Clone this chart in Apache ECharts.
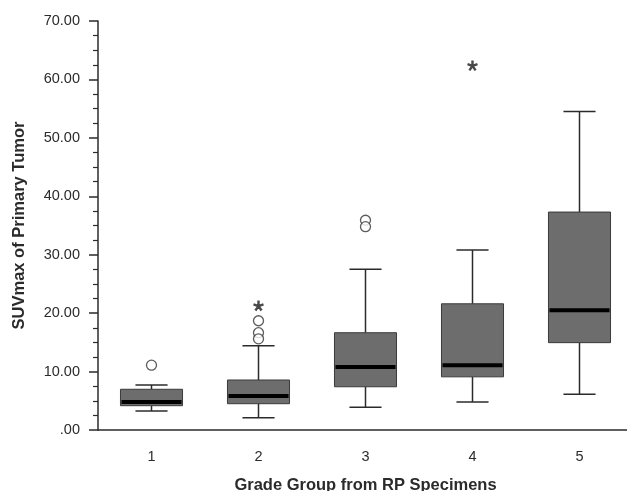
<!DOCTYPE html>
<html>
<head>
<meta charset="utf-8">
<script src="https://cdn.jsdelivr.net/npm/echarts@6/dist/echarts.min.js"></script>
<style>
html, body { margin: 0; padding: 0; background: #fff; }
#chart { width: 627px; height: 491px; }
</style>
</head>
<body>
<div id="chart"></div>
<script>
// 箱线图数据
const categories = ['1', '2', '3', '4', '5'];
const whiskerLow = [3.25, 2.1, 3.9, 4.8, 6.1];
const q1 = [4.16, 4.5, 7.4, 9.1, 14.95];
const median = [4.8, 5.8, 10.8, 11.1, 20.5];
const q3 = [6.97, 8.56, 16.65, 21.6, 37.3];
const whiskerHigh = [7.7, 14.4, 27.5, 30.8, 54.5];
// 离群值（圆圈）和极值（星号）
const outliers = [['1', 11.1], ['2', 18.7], ['2', 16.65], ['2', 15.6], ['3', 35.9], ['3', 34.8]];
const extremes = [['2', 21.3], ['4', 62.4]];
const yTicks = [0, 10, 20, 30, 40, 50, 60, 70];

const font = 'Liberation Sans, Arial, sans-serif';
const ink = '#2b2b2b';

let $chart = echarts.init(document.getElementById('chart'));

const boxData = categories.map((c, i) => [i, whiskerLow[i], q1[i], median[i], q3[i], whiskerHigh[i]]);

function renderBox(params, api) {
	const x = api.value(0);
	const pLow = api.coord([x, api.value(1)]);
	const pQ1 = api.coord([x, api.value(2)]);
	const pMed = api.coord([x, api.value(3)]);
	const pQ3 = api.coord([x, api.value(4)]);
	const pHigh = api.coord([x, api.value(5)]);
	const band = api.size([1, 0])[0];
	const bw = band * 0.58;
	const cw = band * 0.3;
	const cx = pMed[0];
	const lineStyle = { stroke: ink, lineWidth: 1.5 };
	return {
		type: 'group',
		children: [
			{ type: 'line', shape: { x1: cx, y1: pLow[1], x2: cx, y2: pQ1[1] }, style: lineStyle },
			{ type: 'line', shape: { x1: cx, y1: pQ3[1], x2: cx, y2: pHigh[1] }, style: lineStyle },
			{ type: 'line', shape: { x1: cx - cw / 2, y1: pLow[1], x2: cx + cw / 2, y2: pLow[1] }, style: lineStyle },
			{ type: 'line', shape: { x1: cx - cw / 2, y1: pHigh[1], x2: cx + cw / 2, y2: pHigh[1] }, style: lineStyle },
			{
				type: 'rect',
				shape: { x: cx - bw / 2, y: pQ3[1], width: bw, height: pQ1[1] - pQ3[1] },
				style: { fill: '#6d6d6d', stroke: '#3a3a3a', lineWidth: 1 }
			},
			{ type: 'line', shape: { x1: cx - bw / 2 + 1, y1: pMed[1], x2: cx + bw / 2 - 1, y2: pMed[1] }, style: { stroke: '#000', lineWidth: 4 } }
		]
	};
}

const option = {
	animation: false,
	backgroundColor: '#fff',
	grid: { left: 98, top: 21, right: -6, bottom: 61, outerBoundsMode: 'none', containLabel: false },
	xAxis: {
		type: 'category',
		data: categories,
		name: 'Grade Group from RP Specimens',
		nameLocation: 'middle',
		nameGap: 47,
		nameTextStyle: { fontFamily: font, fontSize: 16.5, fontWeight: 'bold', color: ink },
		axisLine: { lineStyle: { color: ink, width: 1.5 } },
		axisTick: { alignWithLabel: true, length: 8, lineStyle: { color: ink, width: 1.5 } },
		axisLabel: { fontFamily: font, fontSize: 14.5, color: ink, margin: 19 },
		splitLine: { show: false }
	},
	yAxis: {
		type: 'value',
		min: 0,
		max: 70,
		interval: 10,
		name: 'SUVmax of Primary Tumor',
		nameLocation: 'middle',
		nameGap: 70,
		nameTextStyle: { fontFamily: font, fontSize: 16.5, fontWeight: 'bold', color: ink },
		axisLine: { show: true, lineStyle: { color: ink, width: 1.5 } },
		axisTick: { show: true, length: 9, lineStyle: { color: ink, width: 1.5 } },
		minorTick: { show: true, splitNumber: 4, length: 5, lineStyle: { color: ink, width: 1.2 } },
		axisLabel: {
			fontFamily: font, fontSize: 14.5, color: ink, margin: 18,
			formatter: v => (yTicks.indexOf(v) >= 0 ? (v === 0 ? '.00' : v.toFixed(2)) : '')
		},
		splitLine: { show: false }
	},
	series: [
		{
			type: 'custom',
			renderItem: renderBox,
			data: boxData,
			encode: { x: 0, y: [1, 2, 3, 4, 5] },
			z: 2
		},
		{
			type: 'scatter',
			data: outliers,
			symbol: 'circle',
			symbolSize: 10,
			itemStyle: { color: '#fff', borderColor: '#333', borderWidth: 1.3 },
			z: 3
		},
		{
			// 五角星号
			type: 'scatter',
			data: extremes,
			symbol: 'path://M0,0L0,-5M0,0L4.76,-1.55M0,0L2.94,4.05M0,0L-2.94,4.05M0,0L-4.76,-1.55',
			symbolSize: 10,
			itemStyle: { color: 'none', borderColor: '#1a1a1a', borderWidth: 2.4 },
			z: 3
		}
	]
};

$chart.setOption(option, true);
</script>
</body>
</html>
